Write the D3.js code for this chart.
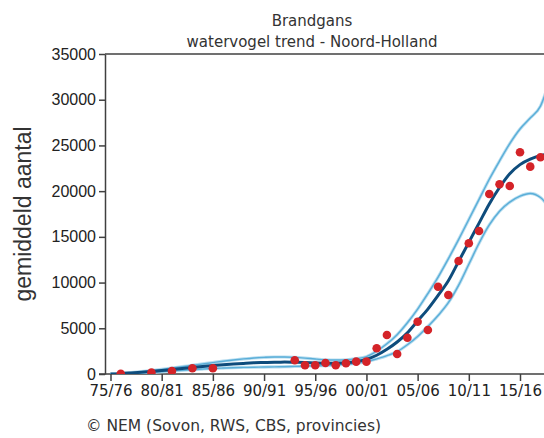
<!DOCTYPE html>
<html>
<head>
<meta charset="utf-8">
<script src="https://cdn.jsdelivr.net/npm/d3@7/dist/d3.min.js"></script>
<style>
  html, body { margin: 0; padding: 0; background: #fff; overflow: hidden; }
  svg { display: block; }
</style>
</head>
<body>
<svg id="chart" width="544" height="438"></svg>
<script>
// seizoenen op de x-as (beginjaar van het seizoen)
const tickYears = [1975, 1980, 1985, 1990, 1995, 2000, 2005, 2010, 2015];
const tickLabels = ['75/76', '80/81', '85/86', '90/91', '95/96', '00/01', '05/06', '10/11', '15/16'];
const yTicks = [0, 5000, 10000, 15000, 20000, 25000, 30000, 35000];

// getelde seizoensgemiddelden (rode punten)
const countYears = [1976, 1979, 1981, 1983, 1985, 1993, 1994, 1995, 1996, 1997, 1998, 1999, 2000,
  2001, 2002, 2003, 2004, 2005, 2006, 2007, 2008, 2009, 2010, 2011, 2012, 2013, 2014, 2015, 2016, 2017];
const countValues = [20, 150, 330, 630, 630, 1500, 950, 950, 1200, 950, 1170, 1350, 1350,
  2810, 4270, 2190, 3970, 5720, 4810, 9550, 8640, 12360, 14300, 15640, 19690, 20750, 20570, 24250, 22680, 23710];

// trendlijn met betrouwbaarheidsband
const trendYears = [1975, 1976, 1977, 1978, 1979, 1980, 1981, 1982, 1983, 1984,
  1985, 1986, 1987, 1988, 1989, 1990, 1991, 1992, 1993, 1994,
  1995, 1996, 1997, 1998, 1999, 2000, 2001, 2002, 2003, 2004,
  2005, 2006, 2007, 2008, 2009, 2010, 2011, 2012, 2013, 2014,
  2015, 2016, 2017, 2018];
const trendValues = [0, 40, 110, 190, 280, 380, 490, 600, 710, 820,
  920, 1010, 1090, 1160, 1220, 1260, 1290, 1300, 1280, 1250,
  1210, 1180, 1190, 1240, 1370, 1600, 2050, 2700, 3500, 4500,
  5800, 7100, 8600, 10200, 12300, 14400, 16500, 18600, 20400, 21900,
  22900, 23500, 23900, 24100];
const upperValues = [0, 60, 150, 260, 380, 510, 650, 800, 950, 1100,
  1250, 1400, 1530, 1650, 1750, 1820, 1860, 1860, 1820, 1740,
  1640, 1560, 1530, 1560, 1680, 1900, 2500, 3300, 4300, 5600,
  7100, 8800, 10600, 12600, 14700, 16900, 19100, 21300, 23300, 25200,
  26800, 28000, 29300, 32500];
const lowerValues = [0, 25, 70, 120, 180, 250, 330, 400, 470, 540,
  600, 650, 690, 720, 740, 760, 780, 800, 830, 860,
  890, 920, 970, 1050, 1180, 1350, 1650, 2000, 2450, 3200,
  4100, 5200, 6400, 7800, 9700, 12000, 14300, 16300, 17800, 18800,
  19450, 19750, 19300, 18000];

(function () {
  const svg = d3.select('#chart');
  const W = 544;
  const left = 105, top = 54, bottom = 374;
  const axisColor = '#404040';

  const x = d3.scaleLinear().domain([1975, 2015]).range([110.5, 520]);
  const y = d3.scaleLinear().domain([0, 35000]).range([bottom, top]);

  svg.append('defs').append('clipPath').attr('id', 'plot-clip')
    .append('rect').attr('x', left).attr('y', top).attr('width', W - left).attr('height', bottom - top);

  // titel
  const title = svg.append('g')
    .attr('font-family', '"DejaVu Sans", sans-serif')
    .attr('font-size', 15)
    .attr('fill', '#333')
    .attr('text-anchor', 'middle');
  title.append('text').attr('x', 312).attr('y', 26).text('Brandgans');
  title.append('text').attr('x', 312).attr('y', 47).text('watervogel trend - Noord-Holland');

  // kader boven en x-as lijn
  svg.append('line')
    .attr('x1', left).attr('x2', W).attr('y1', top).attr('y2', top)
    .attr('stroke', axisColor).attr('stroke-width', 1.5);
  svg.append('line')
    .attr('x1', left - 6).attr('x2', W).attr('y1', bottom).attr('y2', bottom)
    .attr('stroke', axisColor).attr('stroke-width', 1.5);

  // y-as
  const yAxis = svg.append('g')
    .attr('transform', `translate(${left},0)`)
    .call(d3.axisLeft(y).tickValues(yTicks).tickSize(6).tickSizeOuter(0).tickPadding(3).tickFormat(d3.format('d')));
  yAxis.select('.domain').attr('stroke', axisColor).attr('stroke-width', 1.5);
  yAxis.selectAll('.tick line').attr('stroke', axisColor).attr('stroke-width', 1.5);
  yAxis.selectAll('.tick text')
    .attr('font-family', '"Liberation Sans", Arial, sans-serif')
    .attr('font-size', 16)
    .attr('fill', '#222');

  // x-as
  const xAxis = svg.append('g')
    .attr('transform', `translate(0,${bottom})`)
    .call(d3.axisBottom(x).tickValues(tickYears).tickSize(7).tickSizeOuter(0).tickPadding(4)
      .tickFormat((d, i) => tickLabels[i]));
  xAxis.select('.domain').remove();
  xAxis.selectAll('.tick line').attr('stroke', axisColor).attr('stroke-width', 1.5);
  xAxis.selectAll('.tick text')
    .attr('font-family', '"DejaVu Sans", sans-serif')
    .attr('font-size', 15)
    .attr('fill', '#222');

  // y-as titel
  svg.append('text')
    .attr('transform', `translate(31,${(top + bottom) / 2}) rotate(-90)`)
    .attr('text-anchor', 'middle')
    .attr('font-family', '"Liberation Sans", Arial, sans-serif')
    .attr('font-size', 23)
    .attr('fill', '#333')
    .text('gemiddeld aantal');

  // lijnen
  const plot = svg.append('g').attr('clip-path', 'url(#plot-clip)');
  const lineOf = values => d3.line()
    .x((d, i) => x(trendYears[i]))
    .y(d => y(d))
    .curve(d3.curveMonotoneX)(values);

  [upperValues, lowerValues].forEach(vals => {
    plot.append('path').attr('d', lineOf(vals))
      .attr('fill', 'none').attr('stroke', '#b9def0').attr('stroke-width', 3.2);
    plot.append('path').attr('d', lineOf(vals))
      .attr('fill', 'none').attr('stroke', '#5aaed8').attr('stroke-width', 1.4);
  });

  plot.append('path').attr('d', lineOf(trendValues))
    .attr('fill', 'none').attr('stroke', '#0e4c7c').attr('stroke-width', 3);

  // punten
  plot.append('g').selectAll('circle')
    .data(countValues)
    .join('circle')
    .attr('cx', (d, i) => x(countYears[i]))
    .attr('cy', d => y(d))
    .attr('r', 4.3)
    .attr('fill', '#d42328');

  // bron
  svg.append('text')
    .attr('x', 86).attr('y', 431)
    .attr('font-family', '"DejaVu Sans", sans-serif')
    .attr('font-size', 15.5)
    .attr('fill', '#333')
    .text('© NEM (Sovon, RWS, CBS, provincies)');
})();
</script>
</body>
</html>
